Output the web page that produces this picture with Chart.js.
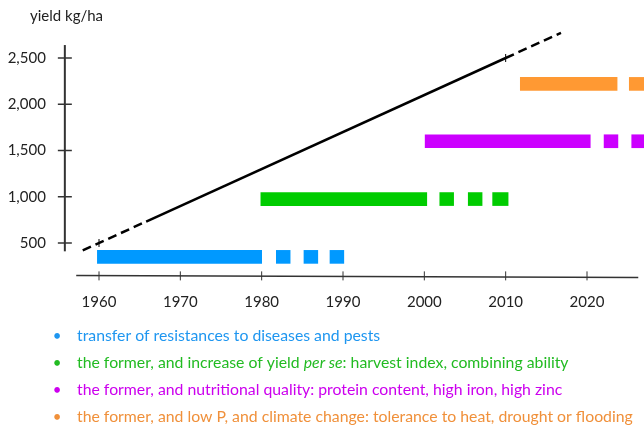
<!DOCTYPE html>
<html>
<head>
<meta charset="utf-8">
<script src="https://cdn.jsdelivr.net/npm/chart.js@4"></script>
<style>
  html, body { margin: 0; padding: 0; background: #fff; }
  canvas { display: block; }
</style>
</head>
<body>
<canvas id="chart" width="644" height="427"></canvas>
<script>
// axis ticks
const xTicks = [1960, 1970, 1980, 1990, 2000, 2010, 2020];
const yTicks = [500, 1000, 1500, 2000, 2500];

// breeding focus periods: solid span then dashed continuation, [start, end] in years
const blueLevel = 350;
const blueSegs = [[1959.8, 1980.0], [1981.8, 1983.5], [1985.2, 1986.9], [1988.4, 1990.1]];
const greenLevel = 975;
const greenSegs = [[1979.9, 2000.3], [2001.9, 2003.6], [2005.4, 2007.1], [2008.4, 2010.3]];
const purpleLevel = 1600;
const purpleSegs = [[2000.1, 2020.4], [2022.1, 2023.8], [2025.5, 2028.0]];
const orangeLevel = 2220;
const orangeSegs = [[2011.8, 2023.7], [2025.2, 2028.0]];

// yield trend line
const trendSolid = [[1965.8, 732], [2010, 2500]];
const trendDashedA = [[1958, 420], [1965.8, 732]];
const trendDashedB = [[2010, 2500], [2016.8, 2772]];
const trendMarks = [[1960, 500], [2010, 2500]];

const legendItems = [
  { color: '#1e96f0', runs: [['transfer of resistances to diseases and pests', '']] },
  { color: '#22bb22', runs: [['the former, and increase of yield ', ''], ['per se', 'italic '], [': harvest index, combining ability', '']] },
  { color: '#cc00ee', runs: [['the former, and nutritional quality: protein content, high iron, high zinc', '']] },
  { color: '#f0903a', runs: [['the former, and low P, and climate change: tolerance to heat, drought or flooding', '']] }
];

const FONT = 'Lato, "Open Sans", sans-serif';

function segData(segs, level) {
  return segs.map(s => ({ x: s, y: level }));
}
function pts(arr) {
  return arr.map(p => ({ x: p[0], y: p[1] }));
}
function barSet(segs, level, color) {
  return {
    type: 'bar', indexAxis: 'y', grouped: false,
    data: segData(segs, level),
    backgroundColor: color, borderWidth: 0,
    barThickness: 13, clip: false
  };
}

const axisPlugin = {
  id: 'axisPlugin',
  afterDraw(chart) {
    const ctx = chart.ctx;
    const xs = chart.scales.x, ys = chart.scales.y;
    ctx.save();
    ctx.strokeStyle = '#333';
    // y axis
    const ax = xs.getPixelForValue(1955.8);
    ctx.lineWidth = 2;
    ctx.beginPath();
    ctx.moveTo(ax, ys.getPixelForValue(2640));
    ctx.lineTo(ax, ys.getPixelForValue(410));
    ctx.stroke();
    ctx.lineWidth = 1.5;
    ctx.font = '15px ' + FONT;
    ctx.fillStyle = '#222';
    ctx.textAlign = 'right';
    ctx.textBaseline = 'middle';
    yTicks.forEach(v => {
      const y = ys.getPixelForValue(v);
      ctx.beginPath();
      ctx.moveTo(ax - 7, y);
      ctx.lineTo(ax + 7, y);
      ctx.stroke();
      ctx.fillText(v.toLocaleString('en-US'), ax - 19, y);
    });
    // x axis
    const ay = ys.getPixelForValue(150);
    ctx.lineWidth = 1.5;
    ctx.beginPath();
    ctx.moveTo(xs.getPixelForValue(1957.2), ay);
    ctx.lineTo(xs.getPixelForValue(2026.3), ay + 2);
    ctx.stroke();
    ctx.lineWidth = 1;
    ctx.textAlign = 'center';
    xTicks.forEach(v => {
      const x = xs.getPixelForValue(v);
      ctx.beginPath();
      ctx.moveTo(x, ay - 4);
      ctx.lineTo(x, ay + 5);
      ctx.stroke();
      ctx.fillText(String(v), x, ay + 27);
    });
    // axis title
    ctx.textAlign = 'left';
    ctx.fillText('yield kg/ha', 30, 16);

    // legend lines
    legendItems.forEach((item, i) => {
      const y = 336 + i * 27;
      ctx.fillStyle = item.color;
      ctx.textAlign = 'center';
      ctx.font = '15px ' + FONT;
      ctx.fillText('\u2022', 57, y);
      ctx.textAlign = 'left';
      let x = 77;
      item.runs.forEach(r => {
        ctx.font = r[1] + '15.8px ' + FONT;
        ctx.fillText(r[0], x, y);
        x += ctx.measureText(r[0]).width;
      });
    });
    ctx.restore();
  }
};

new Chart(document.getElementById('chart'), {
  data: {
    datasets: [
      barSet(blueSegs, blueLevel, '#0099ff'),
      barSet(greenSegs, greenLevel, '#00cc00'),
      barSet(purpleSegs, purpleLevel, '#cc00ff'),
      barSet(orangeSegs, orangeLevel, '#ff9933'),
      {
        type: 'line', data: pts(trendSolid), borderColor: '#000', borderWidth: 2.5,
        pointRadius: 0, clip: false
      },
      {
        type: 'line', data: pts(trendDashedA).concat([{ x: 1990, y: null }], pts(trendDashedB)),
        borderColor: '#000', borderWidth: 2.5, borderDash: [9, 5], borderCapStyle: 'butt',
        pointRadius: 0, spanGaps: false, clip: false
      },
      {
        type: 'line', data: pts(trendMarks), showLine: false,
        pointStyle: 'line', pointRotation: 90, pointRadius: 4,
        pointBorderColor: '#000', pointBorderWidth: 1, clip: false
      }
    ]
  },
  options: {
    responsive: false,
    animation: false,
    layout: { padding: { left: 17.67, right: 8.2, top: 11.75, bottom: 137.75 } },
    plugins: { legend: { display: false }, tooltip: { enabled: false } },
    scales: {
      x: { type: 'linear', min: 1950, max: 2026, display: false, offset: false, grid: { offset: false } },
      y: { type: 'linear', min: 0, max: 3000, display: false, offset: false, grid: { offset: false } }
    }
  },
  plugins: [axisPlugin]
});
</script>
</body>
</html>
